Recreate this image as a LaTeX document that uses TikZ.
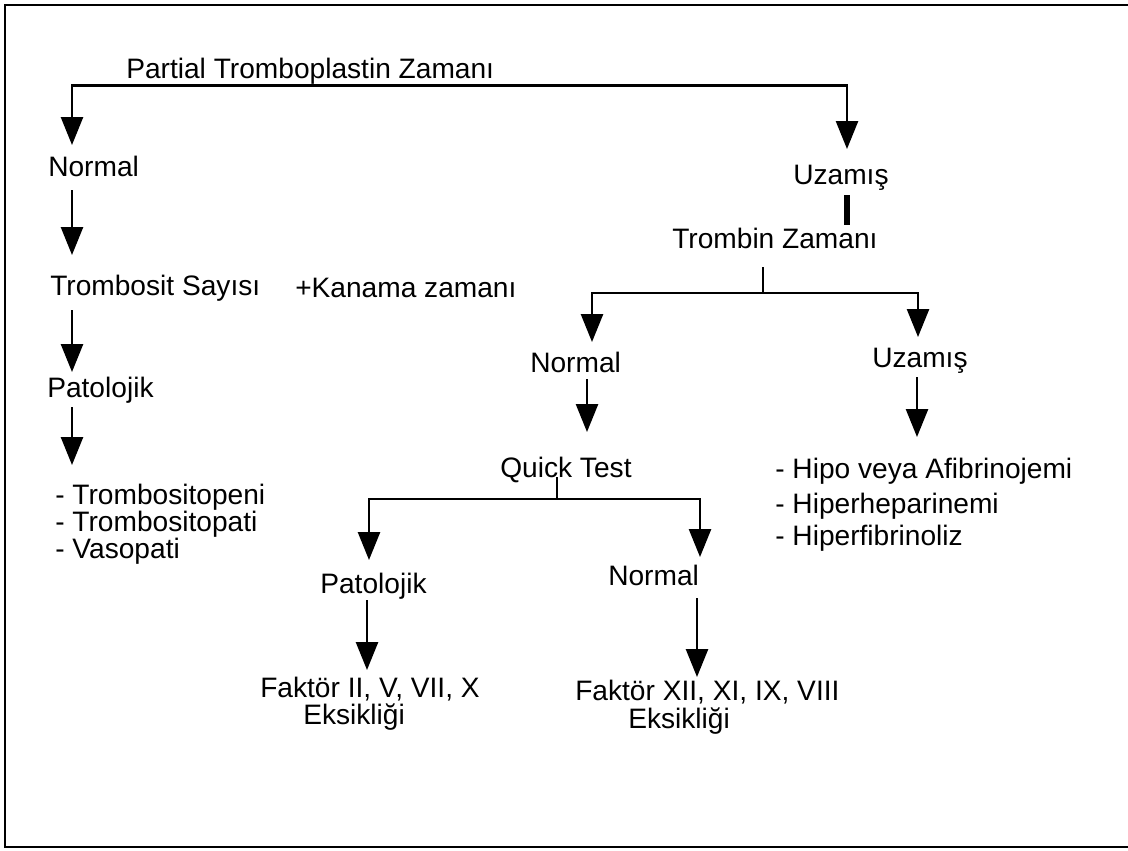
\documentclass[tikz,border=0pt]{standalone}
\usepackage{fontspec}
\setmainfont{Liberation Sans}
\usepackage{tikz}
\usetikzlibrary{arrows.meta,calc}
\tikzset{
  flow/.style={-{Triangle[length=7mm,width=5.5mm]}, line width=1.8pt},
  split/.style={{Triangle[length=7mm,width=5.5mm]}-{Triangle[length=7mm,width=5.5mm]},
    line width=1.8pt},
  stem/.style={line width=1.8pt},
  bar/.style={line width=4.2pt},
  term/.style={anchor=base west, inner sep=0pt, text height=14pt,
    text depth=5pt, font=\fontsize{20}{22}\selectfont},
  frame/.style={line width=1.6pt}
}

\begin{document}
\begin{tikzpicture}[x=0.025cm, y=-0.025cm]
  \useasboundingbox (0,0) rectangle (1128,850);
  \draw[frame] (1128,5) -- (5,5) -- (5,847) -- (1128,847);

  \node[term] (ptz) at (126,78) {Partial Tromboplastin Zamanı};
  \node[term] (nl) at (48,176) {Normal};
  \node[term] (ts) at (50,295) {Trombosit Sayısı};
  \node[term] (kz) at (295,297) {+Kanama zamanı};
  \node[term] (pat1) at (47,397) {Patolojik};
  \node[term] (tp1) at (55,504) {- Trombositopeni};
  \node[term] (tp2) at (55,531) {- Trombositopati};
  \node[term] (vp) at (55,558) {- Vasopati};
  \node[term] (uz1) at (793,184) {Uzamış};
  \node[term] (tz) at (672,248) {Trombin Zamanı};
  \node[term] (nm) at (530,372) {Normal};
  \node[term] (uz2) at (872,367) {Uzamış};
  \node[term] (qt) at (500,477) {Quick Test};
  \node[term] (hv) at (775,478) {- Hipo veya Afibrinojemi};
  \node[term] (hh) at (775,513) {- Hiperheparinemi};
  \node[term] (hf) at (775,545) {- Hiperfibrinoliz};
  \node[term] (pat2) at (320,593) {Patolojik};
  \node[term] (nb) at (608,585) {Normal};
  \node[term] (fk1) at (260,697) {Faktör II, V, VII, X};
  \node[term] (ek1) at (303,724) {Eksikliği};
  \node[term] (fk2) at (575,700) {Faktör XII, XI, IX, VIII};
  \node[term] (ek2) at (628,728) {Eksikliği};

  % arrow columns and junctions
  \coordinate (cL) at (72,0);
  \coordinate (cR) at (847,0);
  \coordinate (tj) at (763,293);
  \coordinate (cNL) at (592,0);
  \coordinate (cNR) at (918,0);
  \coordinate (cNM) at (587,0);
  \coordinate (cUR) at (917,0);
  \coordinate (qj) at (557,499);
  \coordinate (cQL) at (369,0);
  \coordinate (cQR) at (700,0);
  \coordinate (cPB) at (367,0);
  \coordinate (cNB) at (697,0);

  \draw[split, shorten <=2.75mm, shorten >=3.75mm] (nl.north -| cL) -- (cL |- ptz.south)
    -- (cR |- ptz.south) -- (uz1.north -| cR);
  \draw[flow, shorten <=1.75mm, shorten >=5mm] (nl.south -| cL) -- (ts.north -| cL);
  \draw[flow, shorten <=2mm, shorten >=1.25mm] (ts.south -| cL) -- (pat1.north -| cL);
  \draw[flow, shorten <=0.75mm, shorten >=4.75mm] (pat1.south -| cL) -- (tp1.north -| cL);

  \draw[bar, shorten <=1mm, shorten >=0.75mm] (uz1.south -| cR) -- (tz.north -| cR);
  \draw[stem, shorten <=3mm] (tz.south -| tj) -- (tj);
  \draw[split, shorten <=2.5mm, shorten >=2.5mm] (nm.north -| cNL) -- (cNL |- tj)
    -- (cNR |- tj) -- (uz2.north -| cNR);
  \draw[flow, shorten >=6.25mm] (nm.south -| cNM) -- (qt.north -| cNM);
  \draw[flow, shorten <=0.75mm, shorten >=5.25mm] (uz2.south -| cUR) -- (hv.north -| cUR);

  \draw[stem] (qt.base -| qj) -- (qj);
  \draw[split, shorten <=3.25mm, shorten >=2mm] (pat2.north -| cQL) -- (cQL |- qj)
    -- (cQR |- qj) -- (nb.north -| cQR);
  \draw[flow, shorten >=1.75mm] (pat2.south -| cPB) -- (fk1.north -| cPB);
  \draw[flow, shorten <=1.5mm, shorten >=0.75mm] (nb.south -| cNB) -- (fk2.north -| cNB);
\end{tikzpicture}
\end{document}
